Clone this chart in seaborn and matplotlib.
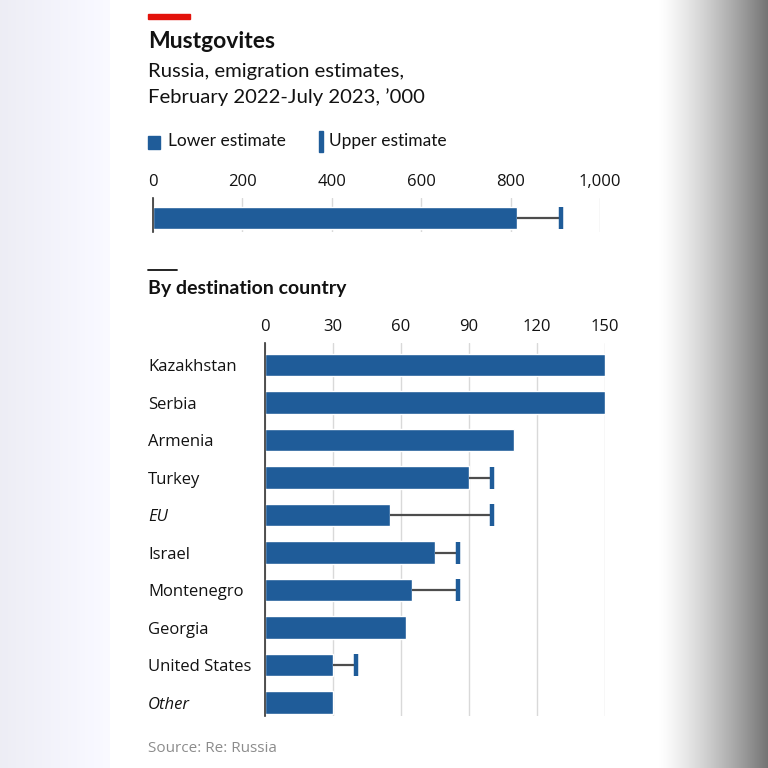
import numpy as np
import matplotlib
matplotlib.use("Agg")
import matplotlib.pyplot as plt
import seaborn as sns
import pandas as pd
from matplotlib.patches import Rectangle
from matplotlib.lines import Line2D

# data, '000 people
total_lower = [815]
total_upper = [912]
countries = ["Kazakhstan", "Serbia", "Armenia", "Turkey", "EU", "Israel",
             "Montenegro", "Georgia", "United States", "Other"]
lower = [150, 150, 110, 90, 55, 75, 65, 62, 30, 30]
upper = [np.nan, np.nan, np.nan, 100, 100, 85, 85, np.nan, 40, np.nan]
italic_labels = ["EU", "Other"]

BLUE = "#1f5c99"
GRID = "#d9d9d9"
TXT = "#121212"
NARROW = ["Lato", "DejaVu Sans"]
REG = ["Open Sans", "DejaVu Sans"]

sns.set_theme(style="white")
plt.rcParams["font.family"] = REG

W = H = 768
fig = plt.figure(figsize=(7.68, 7.68), dpi=100)


def fx(px):
    return px / W


def fy(py):
    return 1 - py / H


# blurred-looking backdrop outside the white panel
bg = fig.add_axes([0, 0, 1, 1], zorder=-10)
cols = np.arange(W)
shade = np.ones(W)
left = cols < 110
shade[left] = 0.93 + 0.05 * (cols[left] / 110)
right = cols > 658
shade[right] = 1 - 0.55 * ((cols[right] - 658) / 110) ** 1.3
img = np.tile(shade, (10, 1))
rgb = np.dstack([img, img, img * 1.0])
rgb[:, left, 2] = np.minimum(1, rgb[:, left, 2] + 0.03)
bg.imshow(rgb, aspect="auto", extent=[0, W, 0, 1])
bg.set_axis_off()

# header
fig.add_artist(Rectangle((fx(148), fy(19)), fx(42), 5 / H, color="#e3120b",
                         transform=fig.transFigure))
fig.text(fx(148), fy(42), "Mustgovites", family=NARROW, weight="bold",
         fontsize=16.5, color=TXT, va="center")
fig.text(fx(148), fy(72), "Russia, emigration estimates,", family=NARROW,
         fontsize=14.6, color=TXT, va="center")
fig.text(fx(148), fy(97), "February 2022-July 2023, \u2019000", family=NARROW,
         fontsize=14.6, color=TXT, va="center")

# legend
fig.add_artist(Rectangle((fx(148), fy(149)), fx(12), 13 / H, color=BLUE,
                         transform=fig.transFigure))
fig.text(fx(168), fy(141), "Lower estimate", family=NARROW, fontsize=12.5,
         color=TXT, va="center")
fig.add_artist(Rectangle((fx(319), fy(152)), fx(3.5), 21 / H, color=BLUE,
                         transform=fig.transFigure))
fig.text(fx(329), fy(141), "Upper estimate", family=NARROW, fontsize=12.5,
         color=TXT, va="center")

# top panel: total
ax1 = fig.add_axes([fx(153), fy(232), fx(447), 34 / H])
sns.barplot(x=total_lower, y=["Total"], orient="h", color=BLUE, width=0.8,
            saturation=1, ax=ax1)
ax1.hlines([0], total_lower, total_upper, color="#4d4d4d", lw=1.6, zorder=3)
ax1.plot(total_upper, [0], marker="|", color=BLUE, markersize=16, mew=3.2,
         ls="none", zorder=4)
ax1.set_xlim(0, 1000)
ax1.set_ylim(0.51, -0.73)
ax1.set_xticks([0, 200, 400, 600, 800, 1000])
ax1.set_xticklabels(["0", "200", "400", "600", "800", "1,000"])
ax1.xaxis.tick_top()
ax1.tick_params(axis="x", length=0, pad=6, labelsize=12, labelcolor=TXT)
ax1.set_yticks([])
ax1.set_xlabel("")
ax1.set_ylabel("")
ax1.grid(axis="x", color=GRID, lw=1)
ax1.set_axisbelow(True)
for s in ["top", "right", "bottom"]:
    ax1.spines[s].set_visible(False)
ax1.spines["left"].set_color("#333333")
ax1.spines["left"].set_linewidth(1.2)
ax1.patch.set_alpha(0)

# divider + section title
fig.add_artist(Line2D([fx(148), fx(177)], [fy(270), fy(270)], color=TXT,
                      lw=1.3, transform=fig.transFigure))
fig.text(fx(148), fy(289), "By destination country", family=NARROW,
         weight="bold", fontsize=14, color=TXT, va="center")

# bottom panel: by country
df = pd.DataFrame({"country": countries, "lower": lower, "upper": upper})
ax2 = fig.add_axes([fx(265), fy(716), fx(340), 373 / H])
sns.barplot(data=df, x="lower", y="country", orient="h", color=BLUE,
            width=0.61, saturation=1, ax=ax2)
has_up = df["upper"].notna()
ypos = np.arange(len(df))[has_up.values]
ax2.hlines(ypos, df["lower"][has_up], df["upper"][has_up], color="#4d4d4d",
           lw=1.6, zorder=3)
ax2.plot(df["upper"][has_up], ypos, marker="|", color=BLUE, markersize=16,
         mew=3.2, ls="none", zorder=4)
ax2.set_xlim(0, 150)
ax2.set_ylim(9.36, -0.587)
ax2.set_xticks([0, 30, 60, 90, 120, 150])
ax2.xaxis.tick_top()
ax2.tick_params(axis="x", length=0, pad=6, labelsize=12, labelcolor=TXT)
ax2.tick_params(axis="y", length=0, pad=0, labelsize=12, labelcolor=TXT)
for lab in ax2.get_yticklabels():
    lab.set_horizontalalignment("left")
    if lab.get_text() in italic_labels:
        lab.set_style("italic")
ax2.yaxis.set_tick_params(pad=fx(117) * 768 * 0.72 + 0)
ax2.set_xlabel("")
ax2.set_ylabel("")
ax2.grid(axis="x", color=GRID, lw=1)
ax2.set_axisbelow(True)
for s in ["top", "right", "bottom"]:
    ax2.spines[s].set_visible(False)
ax2.spines["left"].set_color("#333333")
ax2.spines["left"].set_linewidth(1.2)
ax2.patch.set_alpha(0)

fig.text(fx(148), fy(749), "Source: Re: Russia", fontsize=11, color="#8c8c8c",
         va="center")

fig.savefig("out.png", dpi=100)
